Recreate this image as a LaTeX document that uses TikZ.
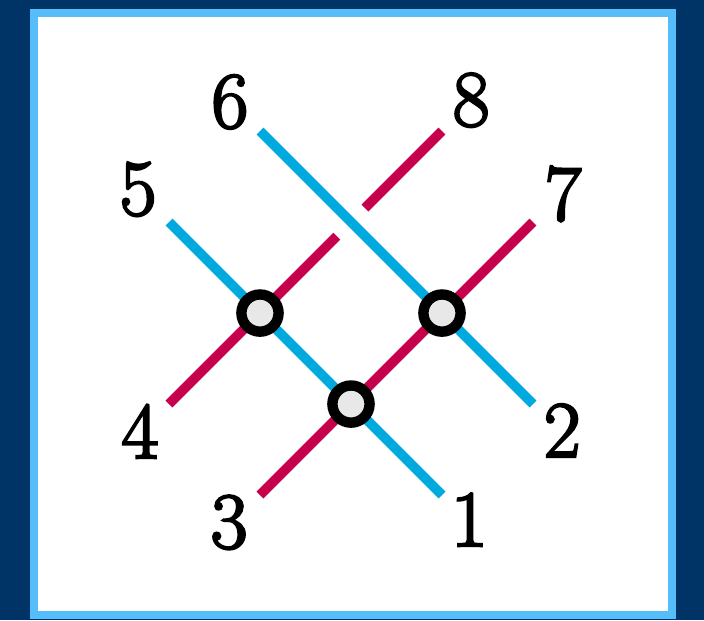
\documentclass[tikz,border=0pt]{standalone}
\usepackage{fontspec}
\usepackage{tikz}
\usetikzlibrary{calc}
\newfontfamily\numfont[FakeBold=3]{Latin Modern Roman}
\definecolor{navy}{RGB}{0,51,102}
\definecolor{frameblue}{RGB}{85,190,250}
\definecolor{strandblue}{RGB}{0,170,222}
\definecolor{strandred}{RGB}{198,0,75}
\definecolor{dotgray}{RGB}{232,232,232}

\begin{document}
\begin{tikzpicture}[x=1.6cm, y=1.6cm, every node/.style={font=\numfont\fontsize{40}{48}\selectfont},
    strand/.style={line width=4.9pt},
    dot/.style={circle, draw=black, fill=dotgray, line width=5.2pt, inner sep=0pt, minimum size=18.6pt}]
    \fill[navy] (-3.857,-3.374) rectangle (3.879,3.440);
    \filldraw[fill=white, draw=frameblue, line width=4pt] (-3.484,-3.319) rectangle (3.527,3.297);
    % strand ends
    \foreach \n/\x/\y in {1/1/-2, 2/2/-1, 3/-1/-2, 4/-2/-1, 5/-2/1, 6/-1/2, 7/2/1, 8/1/2}
        \coordinate (p\n) at (\x,\y);
    \foreach \n/\dx/\dy in {1/0.30/-0.27, 2/0.32/-0.29, 3/-0.34/-0.30, 4/-0.32/-0.30,
                            5/-0.34/0.36, 6/-0.33/0.32, 7/0.33/0.31, 8/0.32/0.34}
        \node (n\n) at ($(p\n)+(\dx,\dy)$) {\n};
    \draw[strand, strandred] (p3) -- (p7);
    \draw[strand, strandred] (p4) -- ($(p4)!0.615!(p8)$);
    \draw[strand, strandred] ($(p4)!0.718!(p8)$) -- (p8);
    \draw[strand, strandblue] (p5) -- (p1);
    \draw[strand, strandblue] (p6) -- (p2);
    % crossings
    \node[dot] (c1) at (-1,0) {};
    \node[dot] (c2) at (1,0) {};
    \node[dot] (c3) at (0,-1) {};
\end{tikzpicture}
\end{document}
